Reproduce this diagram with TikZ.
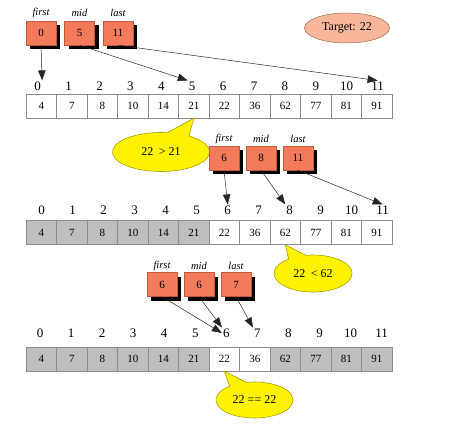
\documentclass[tikz,border=0pt]{standalone}
\usepackage{fontspec}
\setmainfont{Liberation Serif}
\usetikzlibrary{arrows.meta,shapes.geometric,shapes.callouts,shadows}
\definecolor{ptrred}{HTML}{F47A5C}
\definecolor{ptrline}{HTML}{C05A40}
\definecolor{tgtfill}{HTML}{F8B69A}
\definecolor{tgtline}{HTML}{A06A50}
\definecolor{cellgray}{HTML}{BEBEBE}
\definecolor{cellline}{HTML}{8C8C8C}
\definecolor{bubline}{HTML}{A8A000}
\begin{document}
\begin{tikzpicture}[x=1pt,y=-1pt,
  cell/.style={draw=cellline, line width=0.5pt, minimum width=30.5pt, minimum height=24pt, inner sep=0pt, font=\fontsize{11}{11}\selectfont},
  idx/.style={inner sep=1pt, font=\fontsize{13}{13}\selectfont},
  ptrbox/.style={draw=ptrline, line width=0.4pt, fill=ptrred, minimum width=30pt, minimum height=24pt, inner sep=0pt, font=\fontsize{11}{11}\selectfont,
    drop shadow={shadow xshift=4pt, shadow yshift=-4pt, opacity=1, fill=black}},
  ptrlab/.style={inner sep=0pt, font=\fontsize{10.5}{10.5}\selectfont\itshape},
  ptrarrow/.style={-{Triangle[length=10pt,width=7.5pt]}, draw=black!85, line width=0.5pt},
  bubble/.style={ellipse callout, fill=yellow, draw=bubline, line width=0.6pt, inner sep=0pt, callout pointer arc=28, font=\fontsize{12}{12}\selectfont}
]
\useasboundingbox (0,0) rectangle (461,428);

% target
\node[ellipse, fill=tgtfill, draw=tgtline, line width=0.5pt, minimum width=85pt, minimum height=30pt, inner sep=0pt, font=\fontsize{12}{12}\selectfont] (target) at (347,28) {Target: 22};

% ---------- row 1 ----------
\foreach \v [count=\i from 0] in {4,7,8,10,14,21,22,36,62,77,81,91} {
  \node[cell] (a\i) at (41.25+30.5*\i,106) {\v};
  \node[idx] (la\i) at (37.7+30.9*\i,86) {\i};
}
\node[ptrbox] (pf1) at (41,33) {0};
\node[ptrbox] (pm1) at (79.5,33) {5};
\node[ptrbox] (pl1) at (118,33) {11};
\node[ptrlab] (tf1) at (41,13) {first};
\node[ptrlab] (tm1) at (79.5,13) {mid};
\node[ptrlab] (tl1) at (118,13) {last};
\draw[ptrarrow] (pf1.south) -- (la0.north east);
\draw[ptrarrow] (pm1.south) -- (la5.north west);
\draw[ptrarrow] (pl1.south) -- (la11.north);

\node[bubble, minimum width=97pt, minimum height=39pt, callout absolute pointer={(a5.south)}] (b1) at (161,152) {22\hspace{0.45em}> 21};

% ---------- row 2 ----------
\foreach \v/\f [count=\i from 0] in {4/cellgray,7/cellgray,8/cellgray,10/cellgray,14/cellgray,21/cellgray,22/white,36/white,62/white,77/white,81/white,91/white} {
  \node[cell, fill=\f] (b\i) at (41.25+30.5*\i,232.5) {\v};
  \node[idx] (lb\i) at (41.7+31.0*\i,210) {\i};
}
\node[ptrbox] (pf2) at (224,158) {6};
\node[ptrbox] (pm2) at (261,158) {8};
\node[ptrbox] (pl2) at (298,158) {11};
\node[ptrlab] (tf2) at (224,139) {first};
\node[ptrlab] (tm2) at (261,139) {mid};
\node[ptrlab] (tl2) at (298,139) {last};
\draw[ptrarrow] (pf2.south) -- (lb6.north);
\draw[ptrarrow] (pm2.south) -- (lb8.north west);
\draw[ptrarrow] (pl2.south) -- (lb11.north);

\node[bubble, minimum width=78pt, minimum height=37pt, callout absolute pointer={(b8.south)}] (b2) at (313,273.5) {22\hspace{0.45em}< 62};

% ---------- row 3 ----------
\foreach \v/\f [count=\i from 0] in {4/cellgray,7/cellgray,8/cellgray,10/cellgray,14/cellgray,21/cellgray,22/white,36/white,62/cellgray,77/cellgray,81/cellgray,91/cellgray} {
  \node[cell, fill=\f] (c\i) at (41.25+30.5*\i,359) {\v};
  \node[idx] (lc\i) at (40+31.06*\i,333) {\i};
}
\node[ptrbox] (pf3) at (162,284.5) {6};
\node[ptrbox] (pm3) at (199,284.5) {6};
\node[ptrbox] (pl3) at (236,284.5) {7};
\node[ptrlab] (tf3) at (162,266) {first};
\node[ptrlab] (tm3) at (199,266) {mid};
\node[ptrlab] (tl3) at (236,266) {last};
\draw[ptrarrow] (pf3.south) -- (lc6.west);
\draw[ptrarrow] (pm3.south) -- (lc6.north west);
\draw[ptrarrow] (pl3.south) -- (lc7.north west);

\node[bubble, minimum width=77pt, minimum height=36pt, callout absolute pointer={(c6.south)}] (b3) at (254.5,400) {22 == 22};
\end{tikzpicture}
\end{document}
